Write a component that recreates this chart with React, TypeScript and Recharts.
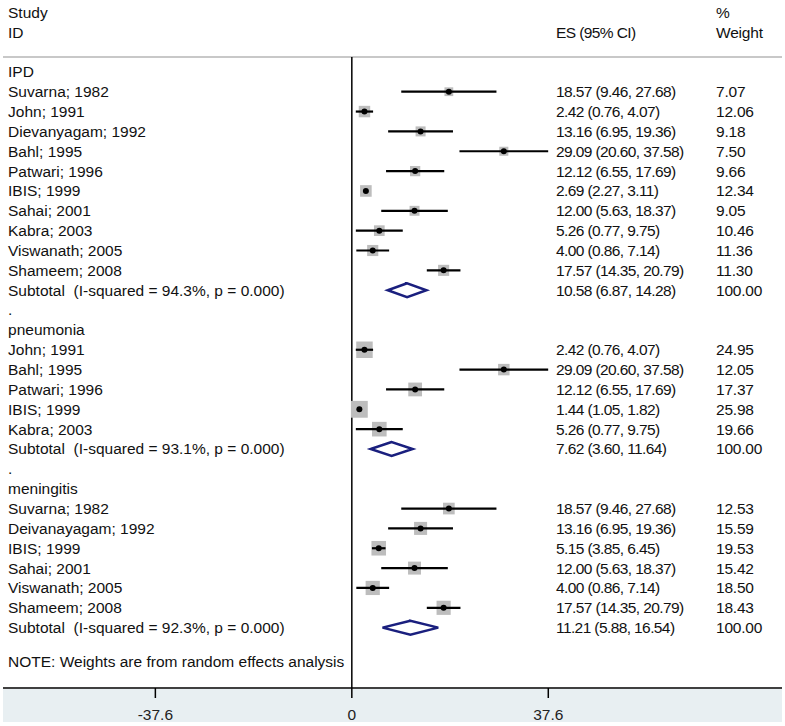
import React from 'react';
import { ScatterChart, Scatter, XAxis, YAxis, ReferenceLine } from 'recharts';

// ---------------- data ----------------
const groupNames = ['IPD', 'pneumonia', 'meningitis'];

const ipdStudies = ['Suvarna; 1982', 'John; 1991', 'Dievanyagam; 1992', 'Bahl; 1995', 'Patwari; 1996', 'IBIS; 1999', 'Sahai; 2001', 'Kabra; 2003', 'Viswanath; 2005', 'Shameem; 2008'];
const ipdES = [18.57, 2.42, 13.16, 29.09, 12.12, 2.69, 12.0, 5.26, 4.0, 17.57];
const ipdLower = [9.46, 0.76, 6.95, 20.6, 6.55, 2.27, 5.63, 0.77, 0.86, 14.35];
const ipdUpper = [27.68, 4.07, 19.36, 37.58, 17.69, 3.11, 18.37, 9.75, 7.14, 20.79];
const ipdWeight = [7.07, 12.06, 9.18, 7.5, 9.66, 12.34, 9.05, 10.46, 11.36, 11.3];

const pneuStudies = ['John; 1991', 'Bahl; 1995', 'Patwari; 1996', 'IBIS; 1999', 'Kabra; 2003'];
const pneuES = [2.42, 29.09, 12.12, 1.44, 5.26];
const pneuLower = [0.76, 20.6, 6.55, 1.05, 0.77];
const pneuUpper = [4.07, 37.58, 17.69, 1.82, 9.75];
const pneuWeight = [24.95, 12.05, 17.37, 25.98, 19.66];

const meniStudies = ['Suvarna; 1982', 'Deivanayagam; 1992', 'IBIS; 1999', 'Sahai; 2001', 'Viswanath; 2005', 'Shameem; 2008'];
const meniES = [18.57, 13.16, 5.15, 12.0, 4.0, 17.57];
const meniLower = [9.46, 6.95, 3.85, 5.63, 0.86, 14.35];
const meniUpper = [27.68, 19.36, 6.45, 18.37, 7.14, 20.79];
const meniWeight = [12.53, 15.59, 19.53, 15.42, 18.5, 18.43];

const subtotalES = [10.58, 7.62, 11.21];
const subtotalLower = [6.87, 3.6, 5.88];
const subtotalUpper = [14.28, 11.64, 16.54];
const subtotalWeight = [100, 100, 100];
const subtotalI2 = ['94.3%', '93.1%', '92.3%'];
const subtotalP = ['0.000', '0.000', '0.000'];

const headerStudy = ['Study', 'ID'];
const headerES = 'ES (95% CI)';
const headerWeight = ['%', 'Weight'];
const noteText = 'NOTE: Weights are from random effects analysis';
const xTicks = [-37.6, 0, 37.6];

// ---------------- layout constants ----------------
const W = 785;
const H = 726;
const X_DOMAIN: [number, number] = [-66.76, 82.33];
const Y_DOMAIN: [number, number] = [-3.62, 31.04];
const LABEL_X = -65.8;
const ES_X = 39.08;
const WT_X = 69.7;
const HEADER_LINE_Y = -0.748;
const DIAMOND_HALF = 0.35;
const FONT = "'Liberation Sans', Arial, sans-serif";
const DIAMOND_COLOR = '#1a1f7e';

const groups = [
  { studies: ipdStudies, es: ipdES, lo: ipdLower, hi: ipdUpper, w: ipdWeight },
  { studies: pneuStudies, es: pneuES, lo: pneuLower, hi: pneuUpper, w: pneuWeight },
  { studies: meniStudies, es: meniES, lo: meniLower, hi: meniUpper, w: meniWeight },
];

type TextRow = { x: number; y: number; text: string };
const labelRows: TextRow[] = [];
const esRows: TextRow[] = [];
const wtRows: TextRow[] = [];
const studyPoints: { x: number; y: number; w: number }[] = [];
const ciSegments: { x: number; y: number }[][] = [];
const diamonds: { x: number; y: number }[][] = [];

labelRows.push({ x: LABEL_X, y: -3, text: headerStudy[0] });
labelRows.push({ x: LABEL_X, y: -2, text: headerStudy[1] });
esRows.push({ x: ES_X, y: -2, text: headerES });
wtRows.push({ x: WT_X, y: -3, text: headerWeight[0] });
wtRows.push({ x: WT_X, y: -2, text: headerWeight[1] });

const f2 = (v: number) => v.toFixed(2);
let row = 0;
groups.forEach((g, gi) => {
  labelRows.push({ x: LABEL_X, y: row, text: groupNames[gi] });
  row++;
  g.studies.forEach((s, i) => {
    labelRows.push({ x: LABEL_X, y: row, text: s });
    esRows.push({ x: ES_X, y: row, text: `${f2(g.es[i])} (${f2(g.lo[i])}, ${f2(g.hi[i])})` });
    wtRows.push({ x: WT_X, y: row, text: f2(g.w[i]) });
    studyPoints.push({ x: g.es[i], y: row, w: g.w[i] });
    ciSegments.push([{ x: g.lo[i], y: row }, { x: g.hi[i], y: row }]);
    row++;
  });
  labelRows.push({ x: LABEL_X, y: row, text: `Subtotal  (I-squared = ${subtotalI2[gi]}, p = ${subtotalP[gi]})` });
  esRows.push({ x: ES_X, y: row, text: `${f2(subtotalES[gi])} (${f2(subtotalLower[gi])}, ${f2(subtotalUpper[gi])})` });
  wtRows.push({ x: WT_X, y: row, text: f2(subtotalWeight[gi]) });
  const lo = subtotalLower[gi];
  const hi = subtotalUpper[gi];
  const es = subtotalES[gi];
  diamonds.push([
    { x: lo, y: row },
    { x: es, y: row - DIAMOND_HALF },
    { x: hi, y: row },
    { x: es, y: row + DIAMOND_HALF },
    { x: lo, y: row },
    { x: es, y: row - DIAMOND_HALF },
  ]);
  row++;
  if (gi < groups.length - 1) {
    labelRows.push({ x: LABEL_X, y: row, text: '.' });
    row++;
  }
});
labelRows.push({ x: LABEL_X, y: row + 0.7, text: noteText });

// ---------------- shapes ----------------
const makeText = (letterSpacing: number) => (props: any) => {
  const { cx, cy, payload } = props;
  return (
    <text
      x={cx}
      y={cy}
      dy="0.35em"
      fontSize={15.5}
      fontFamily={FONT}
      fill="#111"
      letterSpacing={letterSpacing}
      style={{ whiteSpace: 'pre' }}
    >
      {payload.text}
    </text>
  );
};
const LabelText = makeText(0);
const EsText = makeText(-0.6);
const WtText = makeText(-0.2);

const BoxShape = (props: any) => {
  const { cx, cy, payload } = props;
  const s = 3.3 * Math.sqrt(payload.w);
  return <rect x={cx - s / 2} y={cy - s / 2} width={s} height={s} fill="#bdbdbd" />;
};

const DotShape = (props: any) => {
  const { cx, cy } = props;
  return <circle cx={cx} cy={cy} r={3} fill="#000" />;
};

const Nothing = () => <g />;

export default function App() {
  return (
    <div style={{ position: 'absolute', left: 0, top: 0, width: W, height: H, background: '#fff' }}>
      <div style={{ position: 'absolute', left: 3, top: 689, width: 779, height: 33, background: '#e8eff2' }} />
      <ScatterChart width={W} height={H} margin={{ top: 0, right: 3, bottom: 0, left: 3 }}>
        <XAxis
          type="number"
          dataKey="x"
          domain={X_DOMAIN}
          allowDataOverflow
          ticks={xTicks}
          interval={0}
          height={38}
          tickSize={10}
          tickMargin={11}
          axisLine={{ stroke: '#000', strokeWidth: 1.5 }}
          tickLine={{ stroke: '#000', strokeWidth: 1.5 }}
          tick={{ fontSize: 15.5, fill: '#222', fontFamily: FONT }}
          tickFormatter={(v: number) => String(v)}
        />
        <YAxis type="number" dataKey="y" domain={Y_DOMAIN} reversed allowDataOverflow hide />
        <ReferenceLine y={HEADER_LINE_Y} stroke="#c8c8c8" strokeWidth={2} />
        <ReferenceLine
          segment={[{ x: 0, y: HEADER_LINE_Y }, { x: 0, y: Y_DOMAIN[1] }]}
          stroke="#000"
          strokeWidth={1.5}
        />
        <Scatter data={studyPoints} shape={BoxShape} isAnimationActive={false} legendType="none" />
        {ciSegments.map((seg, i) => (
          <Scatter
            key={`ci-${i}`}
            data={seg}
            shape={Nothing}
            line={{ stroke: '#000', strokeWidth: 2.2 }}
            isAnimationActive={false}
            legendType="none"
          />
        ))}
        <Scatter data={studyPoints} shape={DotShape} isAnimationActive={false} legendType="none" />
        {diamonds.map((d, i) => (
          <Scatter
            key={`dia-${i}`}
            data={d}
            shape={Nothing}
            line={{ stroke: DIAMOND_COLOR, strokeWidth: 2.5, strokeLinejoin: 'miter' }}
            isAnimationActive={false}
            legendType="none"
          />
        ))}
        <Scatter data={labelRows} shape={LabelText} isAnimationActive={false} legendType="none" />
        <Scatter data={esRows} shape={EsText} isAnimationActive={false} legendType="none" />
        <Scatter data={wtRows} shape={WtText} isAnimationActive={false} legendType="none" />
      </ScatterChart>
    </div>
  );
}
